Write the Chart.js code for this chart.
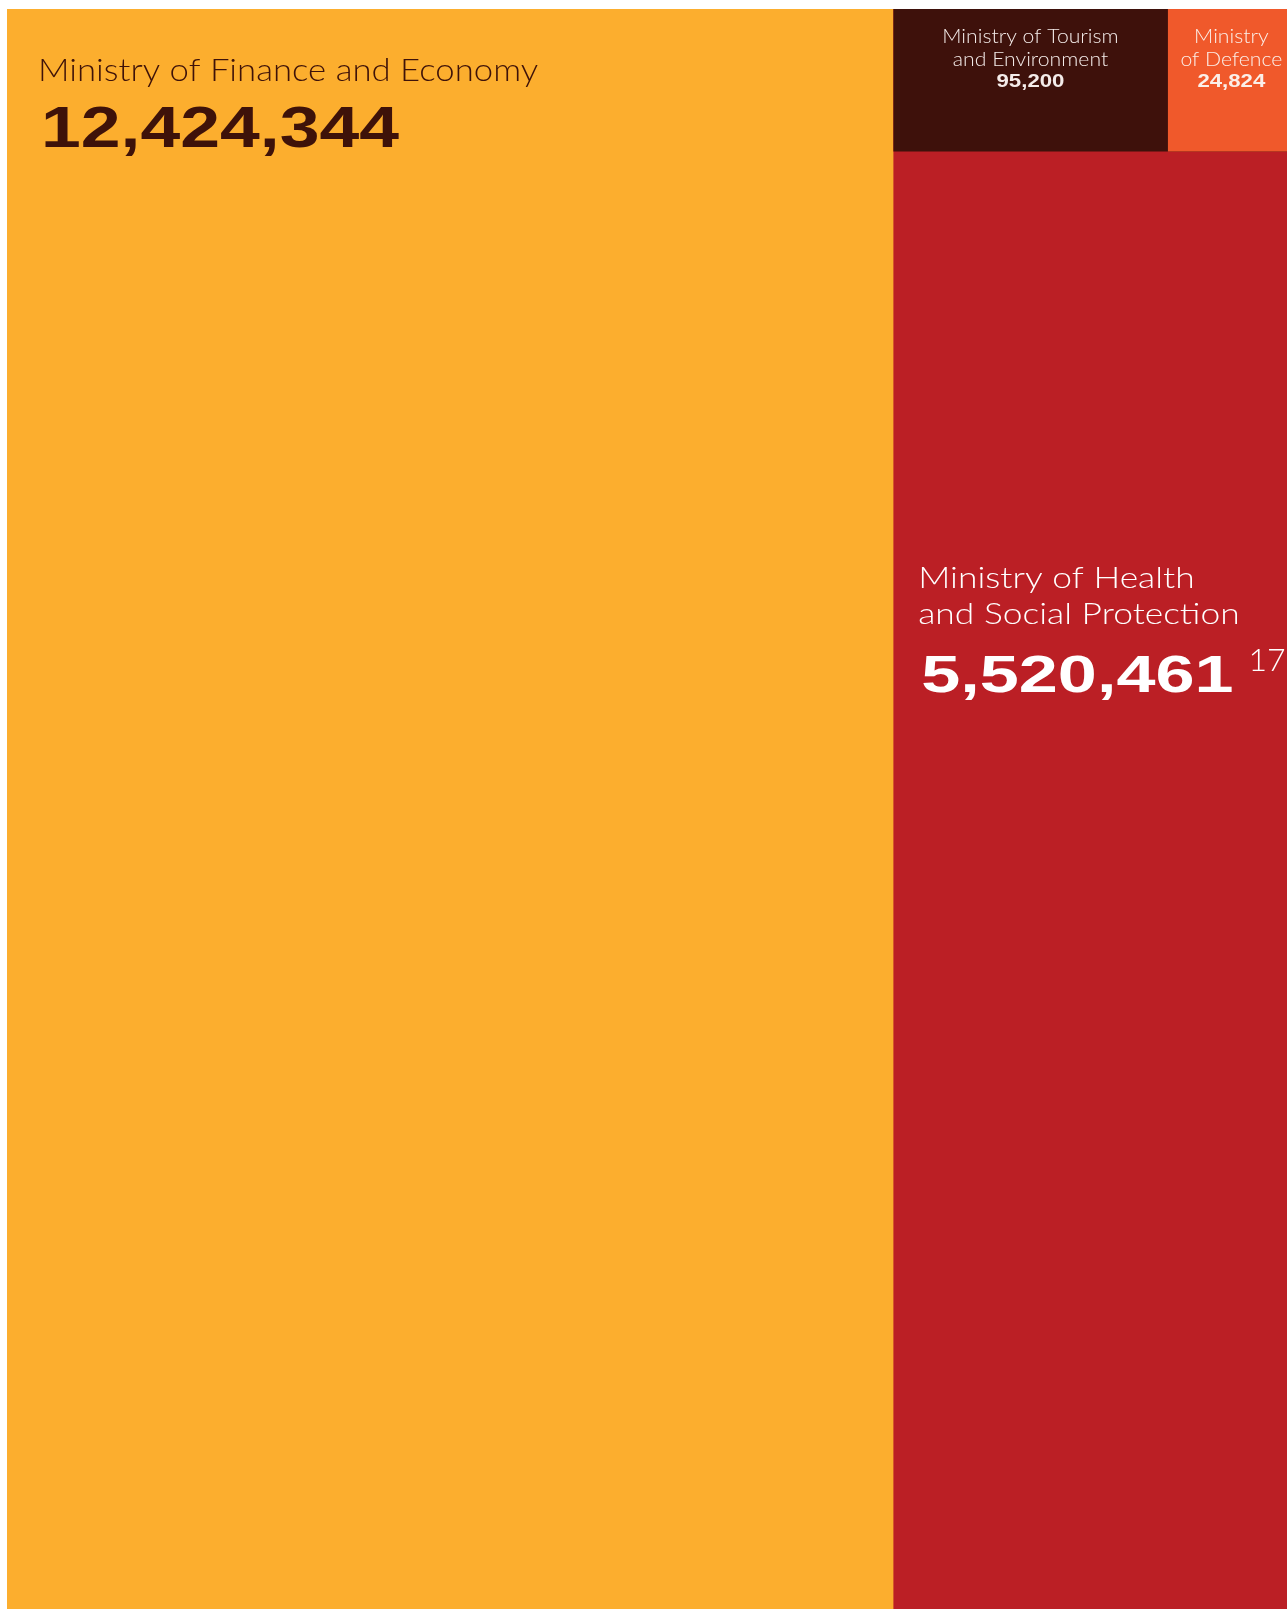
<!DOCTYPE html>
<html>
<head>
<meta charset="utf-8">
<script src="https://cdn.jsdelivr.net/npm/chart.js@4.4.1/dist/chart.umd.min.js"></script>
<style>
    html, body { margin: 0; padding: 0; background: #ffffff; }
    #wrap { width: 1287px; height: 1609px; }
</style>
</head>
<body>
<div id="wrap"><canvas id="chart" width="1287" height="1609"></canvas></div>
<script>
// Data
const ministries = [
    'Ministry of Finance and Economy',
    'Ministry of Tourism and Environment',
    'Ministry of Defence',
    'Ministry of Health and Social Protection'
];
const amounts = [12424344, 95200, 24824, 5520461];
const labelLines = [
    ['Ministry of Finance and Economy'],
    ['Ministry of Tourism', 'and Environment'],
    ['Ministry', 'of Defence'],
    ['Ministry of Health', 'and Social Protection']
];
const footnotes = ['', '', '', '17'];

const COLORS = ['#fcae2e', '#3e110b', '#f0592b', '#bb1f25'];
const TEXT_COLORS = ['#3e1209', '#f4ecea', '#fbefe9', '#ffffff'];

// Layout: Finance vs Health sets the column split; the two small ministries
// are carved out of the top of the Health column in a band tall enough to read
const BAND_HEIGHT = 0.089;
const BAND_EXPONENT = 0.62;

const xSplit = amounts[0] / (amounts[0] + amounts[3]);
const wT = Math.pow(amounts[1], BAND_EXPONENT);
const wD = Math.pow(amounts[2], BAND_EXPONENT);
const xBand = xSplit + (1 - xSplit) * wT / (wT + wD);

// visible rectangles in scale units: [x0, x1, y0, y1], y grows downward
const rects = [
    [0, xSplit, 0, 1],
    [xSplit, xBand, 0, BAND_HEIGHT],
    [xBand, 1, 0, BAND_HEIGHT],
    [xSplit, 1, BAND_HEIGHT, 1]
];
// painted back to front, each tile running on under the ones after it,
// so no white hairline shows at the shared edges
const paintOrder = [0, 3, 1, 2];
const underlay = [
    [0, 1, 0, 1],
    [xSplit, 1, 0, BAND_HEIGHT],
    [xBand, 1, 0, BAND_HEIGHT],
    [xSplit, 1, 0, 1]
];

const fmt = (v) => v.toLocaleString('en-US');

const datasets = underlay.map((r, i) => ({
    label: ministries[i],
    data: [{ x: r[0], y: r[2] }, { x: r[1], y: r[2] }],
    backgroundColor: COLORS[i],
    borderColor: 'transparent',
    borderWidth: 0,
    pointRadius: 0,
    tension: 0,
    order: paintOrder.length - paintOrder.indexOf(i),
    fill: { value: r[3] }
}));

const drawStretched = (ctx, text, x, y, align, stretch) => {
    ctx.save();
    ctx.translate(x, y);
    ctx.scale(stretch, 1);
    ctx.textAlign = align;
    ctx.fillText(text, 0, 0);
    ctx.restore();
};

const NAME_FONT = '"Lato", "Open Sans", sans-serif';
const NUM_FONT = '"Liberation Sans", Arial, sans-serif';

const labelPlugin = {
    id: 'tileLabels',
    afterDatasetsDraw(chart) {
        const { ctx, scales: { x, y } } = chart;
        ctx.save();
        ctx.textBaseline = 'alphabetic';
        rects.forEach((r, i) => {
            const left = x.getPixelForValue(r[0]);
            const right = x.getPixelForValue(r[1]);
            const top = y.getPixelForValue(r[2]);
            ctx.fillStyle = TEXT_COLORS[i];
            if (i === 0) {
                ctx.font = '300 31px ' + NAME_FONT;
                drawStretched(ctx, labelLines[i][0], left + 31, top + 72, 'left', 1.12);
                ctx.font = 'bold 57px ' + NUM_FONT;
                drawStretched(ctx, fmt(amounts[i]), left + 34, top + 138, 'left', 1.255);
            } else if (i === 1 || i === 2) {
                const cx = (left + right) / 2 + (i === 2 ? 4 : 0);
                ctx.font = '300 20px ' + NAME_FONT;
                labelLines[i].forEach((line, k) => {
                    drawStretched(ctx, line, cx, top + 34 + k * 23, 'center', 1.06);
                });
                ctx.font = 'bold 18.5px ' + NUM_FONT;
                drawStretched(ctx, fmt(amounts[i]), cx, top + 78, 'center', 1.2);
            } else {
                ctx.font = '300 30px ' + NAME_FONT;
                labelLines[i].forEach((line, k) => {
                    drawStretched(ctx, line, left + 25, top + 437 + k * 36, 'left', 1.18);
                });
                ctx.font = 'bold 52px ' + NUM_FONT;
                const num = fmt(amounts[i]);
                const numStretch = 1.35;
                drawStretched(ctx, num, left + 28, top + 541, 'left', numStretch);
                const numW = ctx.measureText(num).width * numStretch;
                ctx.font = '300 32px ' + NAME_FONT;
                drawStretched(ctx, footnotes[i], left + 28 + numW + 15, top + 520, 'left', 1.0);
            }
        });
        ctx.restore();
    }
};

new Chart(document.getElementById('chart').getContext('2d'), {
    type: 'line',
    data: { datasets },
    options: {
        responsive: false,
        animation: false,
        devicePixelRatio: 1,
        layout: { padding: { left: 7, top: 9, right: 0, bottom: 0 } },
        scales: {
            x: { type: 'linear', min: 0, max: 1, display: false },
            y: { type: 'linear', min: 0, max: 1, reverse: true, display: false }
        },
        plugins: {
            legend: { display: false },
            tooltip: { enabled: false },
            filler: { propagate: false }
        }
    },
    plugins: [labelPlugin]
});
</script>
</body>
</html>
